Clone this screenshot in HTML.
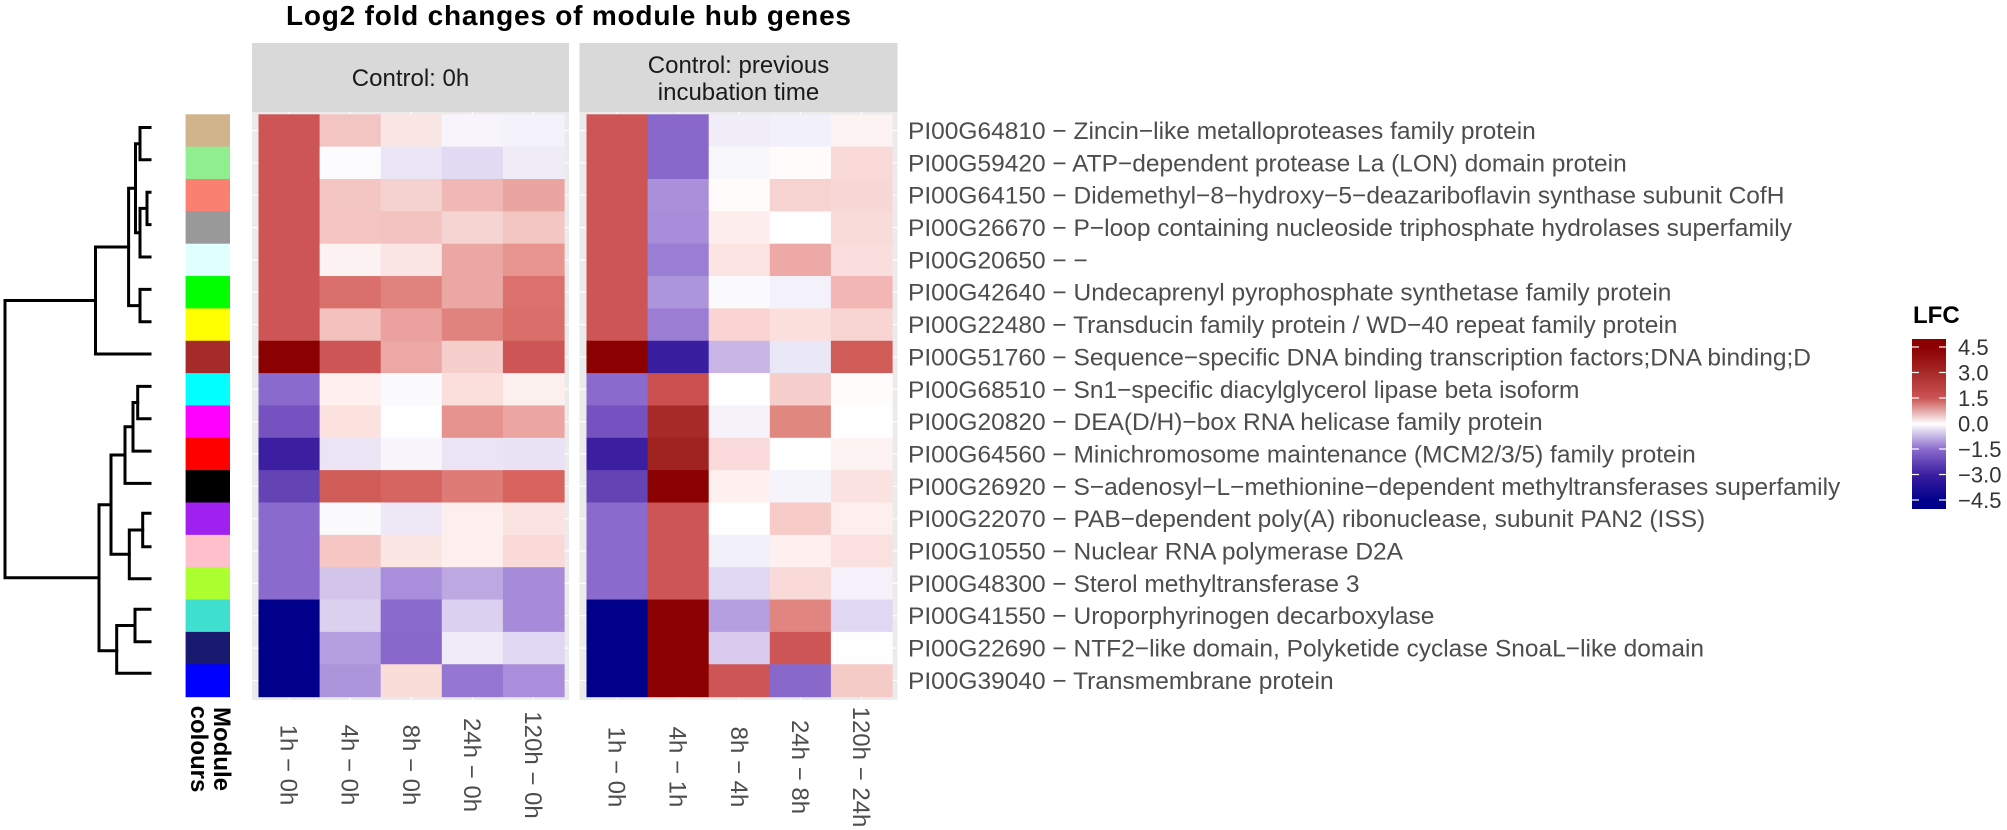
<!DOCTYPE html>
<html><head><meta charset="utf-8"><style>
html,body{margin:0;padding:0;background:#fff;}
svg{display:block;}
text{font-family:"Liberation Sans",Arial,sans-serif;}
</style></head><body>
<svg xmlns="http://www.w3.org/2000/svg" width="2007" height="830" viewBox="0 0 2007 830">
<rect width="2007" height="830" fill="#fff"/>
<text x="286" y="25" font-size="28" font-weight="bold" fill="#000" textLength="565">Log2 fold changes of module hub genes</text>

<!-- strips -->
<rect x="252" y="43" width="317" height="69" fill="#d9d9d9"/>
<rect x="579.5" y="43" width="318" height="69" fill="#d9d9d9"/>
<text x="410.5" y="86" font-size="24" fill="#1a1a1a" text-anchor="middle">Control: 0h</text>
<text x="738.5" y="73" font-size="24" fill="#1a1a1a" text-anchor="middle">Control: previous</text>
<text x="738.5" y="100" font-size="24" fill="#1a1a1a" text-anchor="middle">incubation time</text>

<!-- panel backgrounds -->
<rect x="252" y="112" width="317" height="588" fill="#ebebeb"/>
<rect x="579.5" y="112" width="318" height="588" fill="#ebebeb"/>
<g id="grid" stroke="#fff" stroke-width="1.2"></g>

<g id="tiles"></g>
<g id="mod"></g>
<g id="labels" font-size="24.5" fill="#4d4d4d"></g>
<g id="xl" font-size="24" fill="#4d4d4d"></g>

<!-- dendrogram -->
<g stroke="#000" stroke-width="3" fill="none" stroke-linecap="square">
<path d="M150,127.5 H140 V159.8 H150"/>
<path d="M150,192.2 H147 V224.6 H150 M147,208.4 H140 V257 H150"/>
<path d="M140,143.7 H135.5 V232.7 H140"/>
<path d="M150,289.4 H140 V321.8 H150"/>
<path d="M135.5,188.2 H128.6 V305.6 H140"/>
<path d="M128.6,247 H95.5 V354 H150"/>
<path d="M150,386.4 H137.7 V418.7 H150"/>
<path d="M137.7,402.5 H133 V451.1 H150"/>
<path d="M133,426.8 H125 V483.4 H150"/>
<path d="M150,513.3 H142.7 V546.7 H150"/>
<path d="M142.7,530 H129.3 V578.7 H150"/>
<path d="M125,455 H111 V554.3 H129.3"/>
<path d="M150,609.3 H135 V641.7 H150"/>
<path d="M135,625.5 H116.7 V673.3 H150"/>
<path d="M111,504.7 H99 V650.7 H116.7"/>
<path d="M95.5,300.5 H5 V577.7 H99"/>
</g>

<!-- Module colours label -->
<g font-size="24" font-weight="bold" fill="#000">
<text transform="translate(214,749) rotate(90)" text-anchor="middle">Module</text>
<text transform="translate(191,749) rotate(90)" text-anchor="middle">colours</text>
</g>

<!-- legend -->
<defs>
<linearGradient id="lg" x1="0" y1="0" x2="0" y2="1">
<stop offset="0" stop-color="#8b0000"/>
<stop offset="0.05" stop-color="#8b0000"/>
<stop offset="0.2" stop-color="#a82a28"/>
<stop offset="0.35" stop-color="#cd5555"/>
<stop offset="0.5" stop-color="#ffffff"/>
<stop offset="0.65" stop-color="#8a6acd"/>
<stop offset="0.8" stop-color="#3a1ea0"/>
<stop offset="0.95" stop-color="#00008b"/>
<stop offset="1" stop-color="#00008b"/>
</linearGradient>
</defs>
<text x="1913" y="323" font-size="24" font-weight="bold" fill="#000">LFC</text>
<rect x="1912" y="339" width="34" height="170" fill="url(#lg)"/>
<g id="leg" font-size="22" fill="#333"></g>
<g id="legt" stroke="#fff" stroke-width="1.2"></g>

<script>
var NS="http://www.w3.org/2000/svg";
function el(p,t,a,txt){var e=document.createElementNS(NS,t);for(var k in a)e.setAttribute(k,a[k]);if(txt!=null)e.textContent=txt;document.getElementById(p).appendChild(e);return e;}
var top0=114.3,rh=32.35,cw=61.1,p1=258.5,p2=586.5;
var P1=[
["cd5555","f2c4c2","fae6e5","f7f4fb","f4f2fb"],
["cd5555","fcfcfe","ebe6f5","e2daf2","efecf8"],
["cd5555","f3c6c4","f5d2d0","efb8b5","eba5a1"],
["cd5555","f3c4c1","f2c3c1","f5d4d2","f3c5c3"],
["cd5555","fdf2f2","fae5e4","eaa7a3","e8948f"],
["cd5555","da706b","e0837f","eaa7a3","dc706c"],
["cd5555","f3c2bf","eba19d","e0837f","da6e6a"],
["8b0000","cd5555","eca8a4","f6cfcd","cd5555"],
["8a6acd","fdf0ef","fbfbfd","fbdfdd","fcf0ef"],
["7552bf","fbe2df","fefefe","e6928e","eca6a2"],
["3b1fa0","ebe4f5","f8f6fc","ebe4f5","e9e2f5"],
["6444b5","d05c58","d66460","de7b77","d8625e"],
["8a6acd","fbfbfd","efe9f7","fcefee","fae3e1"],
["8a6acd","f5c6c3","fce6e4","fdefee","f9dad8"],
["8a6acd","d3c5ea","a98fdb","bea8e2","a58bd9"],
["00008b","dcd0ef","8a6acd","dbd0ef","a58bd9"],
["00008b","b69fe0","8868cb","f0ebf8","e0d8f3"],
["00008b","ad95dc","fadcd9","9577d1","a88edb"]];
var P2=[
["cd5555","8868cb","f1eefa","f2f0fa","fdf3f2"],
["cd5555","8868cb","f8f7fc","fefbfa","f9dad8"],
["cd5555","aa90db","fefbfa","f6d2d0","f8d8d6"],
["cd5555","a78dda","fdeeed","fefefe","f9dcda"],
["cd5555","9a7dd4","fbe4e2","eda9a5","f9dedd"],
["cd5555","ad95dc","fbfafd","f3f1fa","f2b7b4"],
["cd5555","9b7dd4","fad4d2","fbdfdd","f8d5d3"],
["8b0000","3a1ea0","c8b5e6","eae7f6","d05c58"],
["8a6acd","cd5050","fefefe","f6cfcc","fefbfb"],
["7552bf","a82a28","f5f2fa","e08780","fefefe"],
["3b1fa0","a0221e","fadada","fefefe","fdf3f2"],
["6444b5","8b0000","fdf0ef","f6f4fb","fae2e0"],
["8a6acd","cd5555","fefefe","f7cbc8","fcefee"],
["8a6acd","cd5555","f2f0f9","fdf0ef","fae0de"],
["8a6acd","cd5555","e0d8f2","f9dad8","f4f1fa"],
["00008b","8b0000","b69fe0","e08580","e0d8f2"],
["00008b","8b0000","d8cbee","cd5555","fefefe"],
["00008b","8b0000","cd5555","8868cb","f5cbc8"]];
var MOD=["d2b48c","90ee90","fa8072","999999","e0ffff","00ff00","ffff00","a52a2a","00ffff","ff00ff","ff0000","000000","a020f0","ffc0cb","adff2f","40e0d0","191970","0000ff"];
var LAB=["PI00G64810 \u2212 Zincin\u2212like metalloproteases family protein",
"PI00G59420 \u2212 ATP\u2212dependent protease La (LON) domain protein",
"PI00G64150 \u2212 Didemethyl\u22128\u2212hydroxy\u22125\u2212deazariboflavin synthase subunit CofH",
"PI00G26670 \u2212 P\u2212loop containing nucleoside triphosphate hydrolases superfamily",
"PI00G20650 \u2212 \u2212",
"PI00G42640 \u2212 Undecaprenyl pyrophosphate synthetase family protein",
"PI00G22480 \u2212 Transducin family protein / WD\u221240 repeat family protein",
"PI00G51760 \u2212 Sequence\u2212specific DNA binding transcription factors;DNA binding;D",
"PI00G68510 \u2212 Sn1\u2212specific diacylglycerol lipase beta isoform",
"PI00G20820 \u2212 DEA(D/H)\u2212box RNA helicase family protein",
"PI00G64560 \u2212 Minichromosome maintenance (MCM2/3/5) family protein",
"PI00G26920 \u2212 S\u2212adenosyl\u2212L\u2212methionine\u2212dependent methyltransferases superfamily",
"PI00G22070 \u2212 PAB\u2212dependent poly(A) ribonuclease, subunit PAN2 (ISS)",
"PI00G10550 \u2212 Nuclear RNA polymerase D2A",
"PI00G48300 \u2212 Sterol methyltransferase 3",
"PI00G41550 \u2212 Uroporphyrinogen decarboxylase",
"PI00G22690 \u2212 NTF2\u2212like domain, Polyketide cyclase SnoaL\u2212like domain",
"PI00G39040 \u2212 Transmembrane protein"];
var XL1=["1h \u2212 0h","4h \u2212 0h","8h \u2212 0h","24h \u2212 0h","120h \u2212 0h"];
var XL2=["1h \u2212 0h","4h \u2212 1h","8h \u2212 4h","24h \u2212 8h","120h \u2212 24h"];
// grid
[[252,569,p1],[579.5,897.5,p2]].forEach(function(p){
 for(var i=0;i<18;i++){var y=top0+rh*(i+0.5);el("grid","line",{x1:p[0],x2:p[1],y1:y,y2:y});}
 for(var j=0;j<5;j++){var x=p[2]+cw*(j+0.5);el("grid","line",{x1:x,x2:x,y1:112,y2:700});}
});
for(var i=0;i<18;i++){
 var y=top0+rh*i;
 for(var j=0;j<5;j++){
  el("tiles","rect",{x:p1+cw*j,y:y,width:cw+0.6,height:rh+0.6,fill:"#"+P1[i][j]});
  el("tiles","rect",{x:p2+cw*j,y:y,width:cw+0.6,height:rh+0.6,fill:"#"+P2[i][j]});
 }
 el("mod","rect",{x:185.6,y:y,width:44.4,height:rh+0.6,fill:"#"+MOD[i]});
 el("labels","text",{x:908,y:y+rh/2+8.5},LAB[i]);
}
for(var j=0;j<5;j++){
 var x1=p1+cw*(j+0.5),x2=p2+cw*(j+0.5);
 el("xl","text",{transform:"translate("+(x1-8.5)+",765) rotate(90)","text-anchor":"middle"},XL1[j]);
 el("xl","text",{transform:"translate("+(x2-8.5)+",767) rotate(90)","text-anchor":"middle"},XL2[j]);
}
var lv=["4.5","3.0","1.5","0.0","\u22121.5","\u22123.0","\u22124.5"];
for(var k=0;k<7;k++){var y=347+25.5*k;
 el("leg","text",{x:1958,y:y+8},lv[k]);
 el("legt","line",{x1:1912,x2:1919,y1:y,y2:y});el("legt","line",{x1:1939,x2:1946,y1:y,y2:y});
}
</script>
</svg>
</body></html>
